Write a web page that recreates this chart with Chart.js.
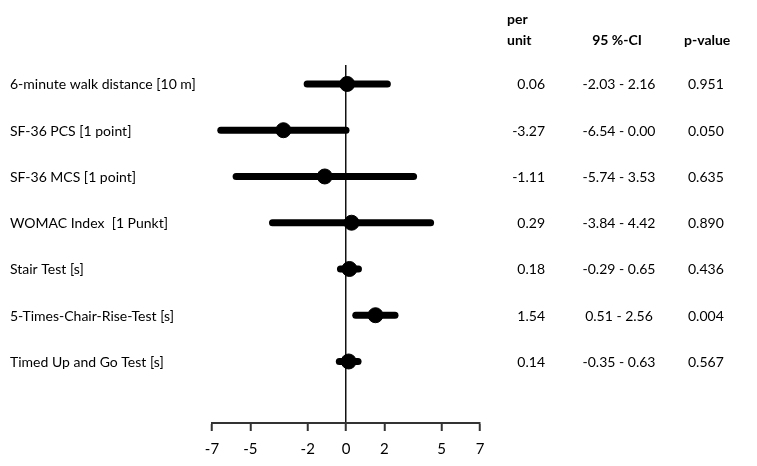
<!DOCTYPE html>
<html>
<head>
<meta charset="utf-8">
<script src="https://cdn.jsdelivr.net/npm/chart.js@4/dist/chart.umd.min.js"></script>
<style>
  html, body { margin: 0; padding: 0; background: #fff; }
</style>
</head>
<body>
<canvas id="myChart" width="757" height="466"></canvas>
<script>
// data, top row first
const outcomes = [
  "6-minute walk distance [10 m]",
  "SF-36 PCS [1 point]",
  "SF-36 MCS [1 point]",
  "WOMAC Index  [1 Punkt]",
  "Stair Test [s]",
  "5-Times-Chair-Rise-Test [s]",
  "Timed Up and Go Test [s]"
];
const estimates = [0.06, -3.27, -1.11, 0.29, 0.18, 1.54, 0.14];
const ciLow = [-2.03, -6.54, -5.74, -3.84, -0.29, 0.51, -0.35];
const ciHigh = [2.16, 0.00, 3.53, 4.42, 0.65, 2.56, 0.63];
const pValues = ["0.951", "0.050", "0.635", "0.890", "0.436", "0.004", "0.567"];
const xTicks = [-7, -5, -2, 0, 2, 5, 7];

const FONT = "Lato";
const TEXT = "#000";

// one line dataset per confidence interval
let ciSets = outcomes.map((name, i) => ({
  label: name,
  data: [{x: ciLow[i], y: i}, {x: ciHigh[i], y: i}],
  showLine: true,
  borderColor: "#000",
  borderWidth: 7,
  borderCapStyle: "round",
  pointRadius: 0
}));

let pointSet = {
  label: "estimate",
  data: estimates.map((v, i) => ({x: v, y: i})),
  backgroundColor: "#000",
  borderColor: "#000",
  pointRadius: 7.5,
  pointHoverRadius: 7.5
};

// table + row labels drawn against the y scale
const tablePlugin = {
  id: "table",
  afterDraw(chart) {
    const ctx = chart.ctx;
    const yScale = chart.scales.y;
    ctx.save();
    ctx.fillStyle = TEXT;
    ctx.textBaseline = "middle";

    ctx.font = "bold 14px " + FONT;
    ctx.textAlign = "left";
    ctx.fillText("per", 507, 19);
    ctx.fillText("unit", 507, 40);
    ctx.textAlign = "center";
    ctx.fillText("95 %-CI", 617, 40);
    ctx.textAlign = "left";
    ctx.fillText("p-value", 684, 40);

    ctx.font = "14px " + FONT;
    outcomes.forEach((name, i) => {
      let y = yScale.getPixelForValue(i) + 1;
      ctx.textAlign = "left";
      ctx.fillText(name, 10, y);
      ctx.textAlign = "right";
      ctx.fillText(estimates[i].toFixed(2), 545, y);
      ctx.textAlign = "center";
      ctx.fillText(ciLow[i].toFixed(2) + " - " + ciHigh[i].toFixed(2), 619, y);
      ctx.textAlign = "left";
      ctx.fillText(pValues[i], 688, y);
    });
    ctx.restore();
  }
};

const ctx = document.getElementById("myChart");

let chart1 = new Chart(ctx, {
  type: "scatter",
  data: { datasets: [pointSet].concat(ciSets) },
  plugins: [tablePlugin],
  options: {
    responsive: false,
    animation: false,
    devicePixelRatio: 1,
    layout: { padding: { left: 212, right: 277, top: 65, bottom: 3 } },
    plugins: { legend: { display: false }, tooltip: { enabled: false } },
    scales: {
      x: {
        type: "linear",
        min: -7,
        max: 7,
        afterBuildTicks: s => { s.ticks = xTicks.map(v => ({value: v})); },
        afterFit: s => { s.height = 40; },
        grid: {
          drawOnChartArea: true,
          color: c => (c.tick && c.tick.value === 0) ? "#111" : "rgba(0,0,0,0)",
          lineWidth: 1.5,
          tickColor: "#333",
          tickLength: 8,
          tickWidth: 2
        },
        border: { display: true, color: "#333", width: 2 },
        ticks: {
          autoSkip: false,
          maxRotation: 0,
          padding: 9,
          color: TEXT,
          font: { family: FONT, size: 15 }
        }
      },
      y: {
        type: "linear",
        reverse: true,
        min: -0.41,
        max: 7.33,
        display: false
      }
    }
  }
});
</script>
</body>
</html>
